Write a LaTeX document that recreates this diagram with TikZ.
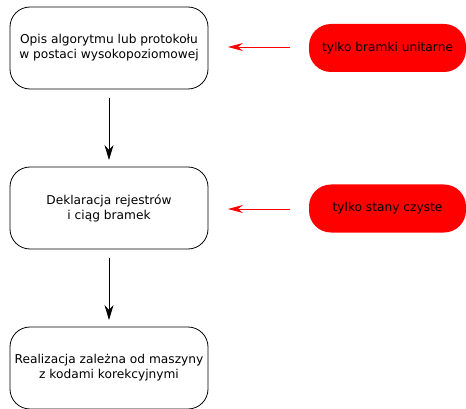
\documentclass[tikz,border=0pt]{standalone}
\usepackage{fontspec}
\setmainfont{DejaVu Sans}
\usetikzlibrary{arrows.meta}
\begin{document}
\begin{tikzpicture}[x=1pt,y=-1pt,
  box/.style={draw=black, line width=0.8pt, rounded corners=20pt, minimum width=198pt, minimum height=82pt, align=center, font=\fontsize{12.2}{15}\selectfont, inner sep=0pt},
  redbox/.style={fill=red, draw=none, rounded corners=22pt, minimum width=157pt, minimum height=48pt, align=center, font=\fontsize{12.2}{15}\selectfont, inner sep=0pt},
  flow/.style={draw=black, line width=0.8pt, -{Stealth[length=15pt,width=9pt,inset=5pt]}},
  redflow/.style={draw=red, line width=0.8pt, -{Stealth[length=15pt,width=8pt,inset=5pt]}}]
\useasboundingbox (0,0) rectangle (466,409);
\node[box] (b1) at (109,48) {Opis algorytmu lub protokołu\\w postaci wysokopoziomowej};
\node[box] (b2) at (109,208) {Deklaracja rejestrów\\i ciąg bramek};
\node[box] (b3) at (109,368) {Realizacja zależna od maszyny\\z kodami korekcyjnymi};
\node[redbox] (r1) at (387.5,48) {tylko bramki unitarne};
\node[redbox] (r2) at (387.5,208.5) {tylko stany czyste};
\coordinate (a1s) at (109,98);
\coordinate (a1e) at (109,160);
\coordinate (a2s) at (109,258);
\coordinate (a2e) at (109,320);
\coordinate (c1s) at (290,47);
\coordinate (c1e) at (228,47);
\coordinate (c2s) at (290,209);
\coordinate (c2e) at (228,209);
\draw[flow] (a1s) -- (a1e);
\draw[flow] (a2s) -- (a2e);
\draw[redflow] (c1s) -- (c1e);
\draw[redflow] (c2s) -- (c2e);
\end{tikzpicture}
\end{document}
